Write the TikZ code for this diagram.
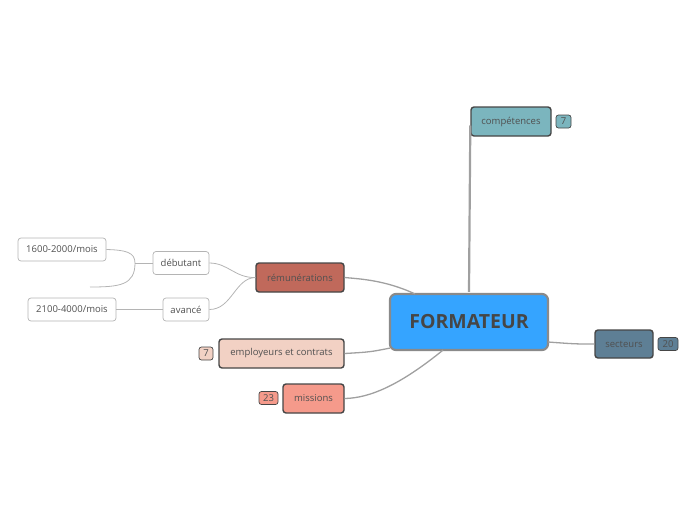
\documentclass[tikz,border=0pt]{standalone}
\usepackage{fontspec}
\setmainfont{Open Sans}
\usetikzlibrary{positioning, calc}
\definecolor{rootblue}{HTML}{35A4FF}
\definecolor{rootline}{HTML}{8A8A8A}
\definecolor{tealbox}{HTML}{7BB5BE}
\definecolor{slatebox}{HTML}{5E7F95}
\definecolor{brickbox}{HTML}{C0695B}
\definecolor{peachbox}{HTML}{F2D1C4}
\definecolor{salmonbox}{HTML}{F59A8B}
\definecolor{dkline}{HTML}{464646}
\definecolor{txtgray}{HTML}{505050}
\definecolor{linkgray}{HTML}{A0A0A0}
\definecolor{leafline}{HTML}{B4B4B4}

\tikzset{
  mainbox/.style={draw=dkline, line width=1.4pt, rounded corners=3pt, text=txtgray,
    font=\fontsize{9.5}{11}\selectfont, minimum height=29pt, inner sep=0pt},
  badge/.style={draw=dkline, line width=0.7pt, rounded corners=2.5pt, text=txtgray,
    font=\fontsize{9.5}{10}\selectfont, minimum height=13pt, inner sep=2pt},
  leafbox/.style={draw=leafline, line width=0.7pt, fill=white, rounded corners=3pt,
    text=txtgray, font=\fontsize{9.5}{11}\selectfont, minimum height=23pt, inner sep=0pt},
  trunk/.style={draw=linkgray, line width=1.3pt},
  twig/.style={draw=leafline, line width=0.8pt}
}

\begin{document}
\begin{tikzpicture}[x=1pt, y=-1pt]

% Canvas
\useasboundingbox (0,0) rectangle (696,520);

% Root
\node[draw=rootline, line width=2.2pt, fill=rootblue, rounded corners=6pt,
      minimum width=158pt, minimum height=56pt, text=dkline,
      font=\fontsize{19.5}{21}\selectfont\bfseries] (root) at (469,322) {FORMATEUR};

% Main topics
\node[mainbox, fill=tealbox, minimum width=80pt] (comp) at (511,121.5) {compétences};
\node[badge, fill=tealbox, minimum width=15pt] (compN) at (563.5,121.5) {7};

\node[mainbox, fill=slatebox, minimum width=58pt, minimum height=28pt] (sect) at (624,344) {secteurs};
\node[badge, fill=slatebox, minimum width=20pt] (sectN) at (668,344) {20};

\node[mainbox, fill=brickbox, minimum width=88pt] (remu) at (300,277.5) {rémunérations};

\node[mainbox, fill=peachbox, minimum width=125pt] (empl) at (281.5,353.5) {employeurs et contrats};
\node[badge, fill=peachbox, minimum width=14pt] (emplN) at (206,353.5) {7};

\node[mainbox, fill=salmonbox, minimum width=61pt] (miss) at (313.5,398.5) {missions};
\node[badge, fill=salmonbox, minimum width=19pt] (missN) at (268.5,398) {23};

% Sub topics
\node[leafbox, minimum width=56pt] (debut) at (181,263) {débutant};
\node[leafbox, minimum width=46pt] (avance) at (186,309.5) {avancé};
\node[leafbox, minimum width=88pt] (salA) at (62,249.5) {1600-2000/mois};
\node[leafbox, minimum width=88pt] (salB) at (72,309.5) {2100-4000/mois};

% Branches from the root
\path[trunk, line width=2.2pt] ($(root.north)+(0,-1)$) -- ($(comp.west)+(0,4)$);
\path[trunk] ($(root.east)+(-1,20)$) .. controls (575,344) .. (sect.west);
\path[trunk] ($(root.north west)+(26,1)$) .. controls (385,280) and (360,279) .. (remu.east);
\path[trunk] ($(root.south west)+(1,-3)$) .. controls (370,352) .. (empl.east);
\path[trunk] ($(root.south)+(-26,-1)$) .. controls (400,385) and (370,398) .. (miss.east);

% Sub branches
\coordinate (knot) at (135,263);
\coordinate (loose) at (90,287);
\path[twig] (remu.west) .. controls (235,278) and (228,263) .. (debut.east);
\path[twig] (remu.west) .. controls (235,278) and (232,309.5) .. (avance.east);
\path[twig] (debut.west) -- (knot);
\path[twig] (knot) .. controls (135,252) and (125,250) .. (salA.east);
\path[twig] (knot) .. controls (135,285) and (120,287) .. (loose);
\path[twig] (avance.west) -- (salB.east);

\end{tikzpicture}
\end{document}
